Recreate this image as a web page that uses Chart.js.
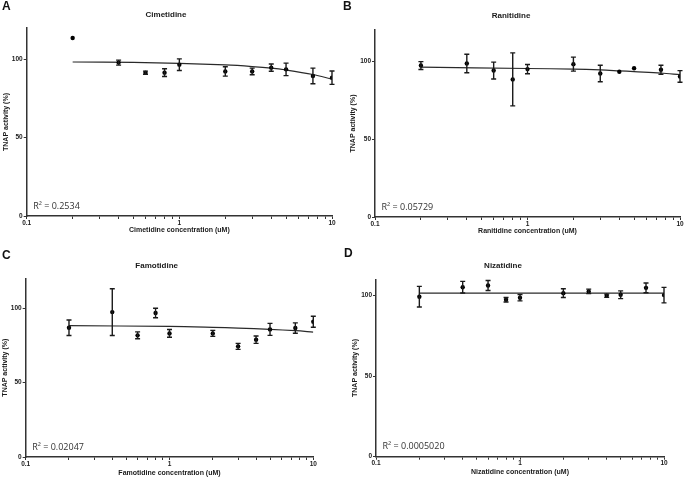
<!DOCTYPE html>
<html>
<head>
<meta charset="utf-8">
<script src="https://cdn.jsdelivr.net/npm/chart.js@4"></script>
<style>
  html, body { margin: 0; padding: 0; background: #fff; }
  #wrap { position: relative; width: 685px; height: 478px; overflow: hidden; background: #fff; }
  canvas { position: absolute; }
  .letter { position: absolute; font-family: "Liberation Sans", Arial, sans-serif; font-weight: bold; font-size: 12px; color: #111; line-height: 12px; }
</style>
</head>
<body>
<div id="wrap">
  <canvas id="cA" width="342" height="240" style="left:0px;top:0px;"></canvas>
  <canvas id="cB" width="343" height="240" style="left:342px;top:0px;"></canvas>
  <canvas id="cC" width="342" height="238" style="left:0px;top:240px;"></canvas>
  <canvas id="cD" width="343" height="238" style="left:342px;top:240px;"></canvas>
  <div class="letter" style="left:2px;top:0px;">A</div>
  <div class="letter" style="left:343px;top:0px;">B</div>
  <div class="letter" style="left:2px;top:249px;">C</div>
  <div class="letter" style="left:344px;top:247px;">D</div>
</div>
<script>
// ---- Data ----
const concentrations = [0.2, 0.4, 0.6, 0.8, 1, 2, 3, 4, 5, 7.5, 10];
const xTickValues = [0.1, 0.2, 0.3, 0.4, 0.5, 0.6, 0.7, 0.8, 0.9, 1, 2, 3, 4, 5, 6, 7, 8, 9, 10];
const xTickLabels = ['0.1', '1', '10'];
const yTickValues = [0, 50, 100];

const cimetidineMean = [113.6, 97.9, 91.5, 91.5, 96.6, 92.3, 92.3, 94.7, 93.6, 89.4, 88.3];
const cimetidineErr  = [0, 1.6, 1.0, 2.5, 3.7, 3.0, 2.1, 2.3, 4.0, 5.0, 4.3];
const cimetidineFitX = [0.2, 0.5, 1, 2, 3, 4, 5, 7.5, 10];
const cimetidineFitY = [98.3, 98.0, 97.4, 96.4, 95.4, 94.4, 93.2, 90.3, 87.4];

const ranitidineMean = [97.2, 98.5, 94.0, 88.3, 94.9, 98.1, 92.1, 93.2, 95.5, 94.5, 90.2];
const ranitidineErr  = [2.5, 5.9, 5.4, 17.0, 3.0, 4.5, 5.3, 0, 0, 2.9, 3.7];
const ranitidineFitX = [0.2, 1, 2, 3, 4, 5, 7.5, 10];
const ranitidineFitY = [96.2, 95.3, 94.9, 94.4, 93.8, 93.3, 92.4, 91.3];

const famotidineMean = [86.8, 97.3, 81.7, 96.7, 83.0, 83.0, 74.3, 78.8, 85.7, 86.6, 90.8];
const famotidineErr  = [5.2, 15.7, 2.3, 3.2, 2.6, 2.0, 2.0, 2.5, 4.0, 3.5, 3.7];
const famotidineFitX = [0.2, 1, 2, 3, 5, 7.5, 10];
const famotidineFitY = [88.2, 87.7, 87.1, 86.6, 85.7, 84.8, 83.9];

const nizatidineMean = [99.2, 105.1, 106.2, 97.3, 98.6, 101.4, 102.5, 99.8, 100.4, 104.7, 100.2];
const nizatidineErr  = [6.4, 3.6, 3.1, 1.4, 2.0, 2.7, 1.4, 1.0, 2.4, 3.0, 4.8];
const nizatidineFitX = [0.2, 10];
const nizatidineFitY = [101.4, 101.4];

const titles = ['Cimetidine', 'Ranitidine', 'Famotidine', 'Nizatidine'];
const rSquared = ['R² = 0.2534', 'R² = 0.05729', 'R² = 0.02047', 'R² = 0.0005020'];

// ---- Rendering ----
const FONT = '"Liberation Sans", Arial, sans-serif';
const INK = '#1a1a1a';

function makePanel(cfg) {
  const errPlugin = {
    id: 'errbars_' + cfg.id,
    afterDatasetsDraw(chart) {
      const ctx = chart.ctx;
      const xs = chart.scales.x, ys = chart.scales.y;
      ctx.save();
      ctx.strokeStyle = INK;
      ctx.lineWidth = 1.4;
      concentrations.forEach((c, i) => {
        const e = cfg.err[i];
        if (!e) return;
        const px = xs.getPixelForValue(c);
        const yt = ys.getPixelForValue(cfg.mean[i] + e);
        const yb = ys.getPixelForValue(cfg.mean[i] - e);
        ctx.beginPath();
        ctx.moveTo(px, yt); ctx.lineTo(px, yb);
        ctx.moveTo(px - 2.5, yt); ctx.lineTo(px + 2.5, yt);
        ctx.moveTo(px - 2.5, yb); ctx.lineTo(px + 2.5, yb);
        ctx.stroke();
      });
      // R squared annotation
      const a = chart.chartArea;
      ctx.fillStyle = '#333';
      ctx.font = '9px "Open Sans", "Liberation Sans", sans-serif';
      ctx.textBaseline = 'alphabetic';
      ctx.textAlign = 'left';
      ctx.fillText(cfg.r2, a.left + 6.5, a.bottom - 7.5);
      ctx.restore();
    }
  };

  return new Chart(document.getElementById(cfg.id), {
    type: 'scatter',
    data: {
      datasets: [
        {
          type: 'line',
          data: cfg.fitX.map((x, i) => ({x: x, y: cfg.fitY[i]})),
          borderColor: '#2a2a2a',
          borderWidth: 1.2,
          pointRadius: 0,
          fill: false,
          tension: 0.35,
          order: 2
        },
        {
          type: 'scatter',
          data: concentrations.map((x, i) => ({x: x, y: cfg.mean[i]})),
          backgroundColor: '#000',
          borderColor: '#000',
          pointRadius: 2.2,
          pointBorderWidth: 0,
          order: 1
        }
      ]
    },
    options: {
      responsive: false,
      animation: false,
      devicePixelRatio: 1,
      layout: { padding: { top: 0, left: 0, bottom: 0, right: cfg.padRight } },
      plugins: {
        legend: { display: false },
        tooltip: { enabled: false },
        title: {
          display: true,
          text: cfg.title,
          color: INK,
          font: { family: FONT, size: 8, weight: 'bold', lineHeight: 1.2 },
          padding: { top: cfg.titleTop, bottom: cfg.titleBottom }
        }
      },
      scales: {
        x: {
          type: 'logarithmic',
          min: 0.1,
          max: 10,
          afterBuildTicks: s => { s.ticks = xTickValues.map(v => ({value: v})); },
          afterFit: s => { s.height = cfg.xAxisH; },
          border: { display: true, color: '#333', width: 1.5 },
          grid: { drawOnChartArea: false, drawTicks: true, tickLength: 3, color: '#333', lineWidth: 1 },
          ticks: {
            autoSkip: false,
            maxRotation: 0,
            padding: 0,
            color: INK,
            font: { family: FONT, size: 6.5, weight: 'bold' },
            callback: (v) => {
              const s = String(Number(v.toPrecision(3)));
              return xTickLabels.includes(s) ? s : '';
            }
          },
          title: {
            display: true,
            text: cfg.xTitle,
            color: INK,
            font: { family: FONT, size: 7, weight: 'bold', lineHeight: 1.2 },
            padding: { top: 0, bottom: cfg.xTitlePad }
          }
        },
        y: {
          type: 'linear',
          min: 0,
          max: cfg.yMax,
          afterBuildTicks: s => { s.ticks = yTickValues.map(v => ({value: v})); },
          afterFit: s => { s.width = cfg.yAxisW; },
          border: { display: true, color: '#333', width: 1.5 },
          grid: { drawOnChartArea: false, drawTicks: true, tickLength: 3, color: '#333', lineWidth: 1 },
          ticks: {
            padding: 1,
            color: INK,
            font: { family: FONT, size: 6.5, weight: 'bold' }
          },
          title: {
            display: true,
            text: 'TNAP activity (%)',
            color: INK,
            font: { family: FONT, size: 7, weight: 'bold', lineHeight: 1.2 },
            padding: { top: cfg.yTitlePad, bottom: 0 }
          }
        }
      }
    },
    plugins: [errPlugin]
  });
}

makePanel({ id: 'cA', title: titles[0], mean: cimetidineMean, err: cimetidineErr, fitX: cimetidineFitX, fitY: cimetidineFitY,
  r2: rSquared[0], xTitle: 'Cimetidine concentration (uM)', yMax: 120,
  padRight: 10, yAxisW: 26.7, xAxisH: 24, titleTop: 10, titleBottom: 8.4, xTitlePad: 5.5, yTitlePad: 1.5 });
makePanel({ id: 'cB', title: titles[1], mean: ranitidineMean, err: ranitidineErr, fitX: ranitidineFitX, fitY: ranitidineFitY,
  r2: rSquared[1], xTitle: 'Ranitidine concentration (uM)', yMax: 120,
  padRight: 5, yAxisW: 33, xAxisH: 23, titleTop: 11, titleBottom: 9.4, xTitlePad: 4.5, yTitlePad: 6.8 });
makePanel({ id: 'cC', title: titles[2], mean: famotidineMean, err: famotidineErr, fitX: famotidineFitX, fitY: famotidineFitY,
  r2: rSquared[2], xTitle: 'Famotidine concentration (uM)', yMax: 120,
  padRight: 28.7, yAxisW: 25.7, xAxisH: 21, titleTop: 21, titleBottom: 7.7, xTitlePad: 1.2, yTitlePad: 1.2 });
makePanel({ id: 'cD', title: titles[3], mean: nizatidineMean, err: nizatidineErr, fitX: nizatidineFitX, fitY: nizatidineFitY,
  r2: rSquared[3], xTitle: 'Nizatidine concentration (uM)', yMax: 110,
  padRight: 21, yAxisW: 34, xAxisH: 21.3, titleTop: 21.2, titleBottom: 8.5, xTitlePad: 1.5, yTitlePad: 8.5 });
</script>
</body>
</html>
